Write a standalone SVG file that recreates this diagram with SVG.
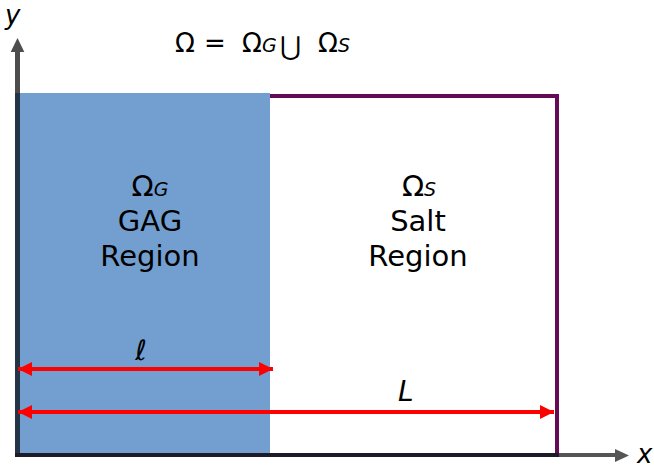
<svg xmlns="http://www.w3.org/2000/svg" width="654" height="470" viewBox="0 0 654 470">
<style>
.t{font-family:"DejaVu Sans","Liberation Sans",sans-serif;font-size:29px;fill:#000}
.f{font-family:"DejaVu Sans","Liberation Sans",sans-serif;font-size:26px;fill:#000}
.sub{font-style:italic;font-size:19px}
.it{font-family:"DejaVu Sans","Liberation Sans",sans-serif;font-style:italic;fill:#000}
.red{stroke:#ff0000;stroke-width:4;fill:none}
.axis{stroke:#4d4d4d;stroke-width:5;fill:none}
</style>
<defs>
<marker id="ah" markerWidth="14" markerHeight="14" refX="14" refY="7" orient="auto-start-reverse" markerUnits="userSpaceOnUse">
<path d="M0,0 L14,7 L0,14 Z" fill="#ff0000"/>
</marker>
</defs>
<rect width="654" height="470" fill="#ffffff"/>
<g id="gag-region">
<rect x="16" y="93" width="254" height="362" fill="#729fcf"/>
<text class="t" x="150" y="196" text-anchor="middle">Ω<tspan class="sub">G</tspan></text>
<text class="t" x="150" y="231" text-anchor="middle">GAG</text>
<text class="t" x="150" y="266" text-anchor="middle">Region</text>
</g>
<g id="salt-region">
<path d="M270,96 H557 V455" fill="none" stroke="#660a55" stroke-width="4"/>
<text class="t" x="419" y="196" text-anchor="middle">Ω<tspan class="sub">S</tspan></text>
<text class="t" x="418" y="231" text-anchor="middle">Salt</text>
<text class="t" x="418" y="266" text-anchor="middle">Region</text>
</g>
<g id="axes">
<line class="axis" x1="17.5" y1="455" x2="17.5" y2="50"/>
<path d="M10.7,52 L17.5,38 L24.3,52 Z" fill="#4d4d4d"/>
<line x1="17.5" y1="93" x2="17.5" y2="456" stroke="#243447" stroke-width="5"/>
<line x1="557" y1="455" x2="616" y2="455" stroke="#555555" stroke-width="4"/>
<path d="M615,449 L629,455.5 L615,462 Z" fill="#555555"/>
<line x1="15" y1="455" x2="559" y2="455" stroke="#1e1a2a" stroke-width="4"/>
<text class="it" x="637" y="463" font-size="26">x</text>
<text class="it" x="5" y="24" font-size="26">y</text>
</g>
<g id="formula">
<text class="f" x="175" y="52">Ω</text>
<text class="f" x="204" y="52" font-size="30">=</text>
<text class="f" x="242" y="52">Ω<tspan class="sub">G</tspan></text>
<text class="f" x="280" y="55" font-size="36">⋃</text>
<text class="f" x="318" y="52">Ω<tspan class="sub">S</tspan></text>
</g>
<g id="connectors">
<line class="red" x1="18" y1="369" x2="273" y2="369" marker-start="url(#ah)" marker-end="url(#ah)"/>
<line class="red" x1="18" y1="412" x2="554" y2="412" marker-start="url(#ah)" marker-end="url(#ah)"/>
<text class="it" x="141" y="360" font-size="28" text-anchor="middle">ℓ</text>
<text class="it" x="398" y="401" font-size="28">L</text>
</g>
</svg>
